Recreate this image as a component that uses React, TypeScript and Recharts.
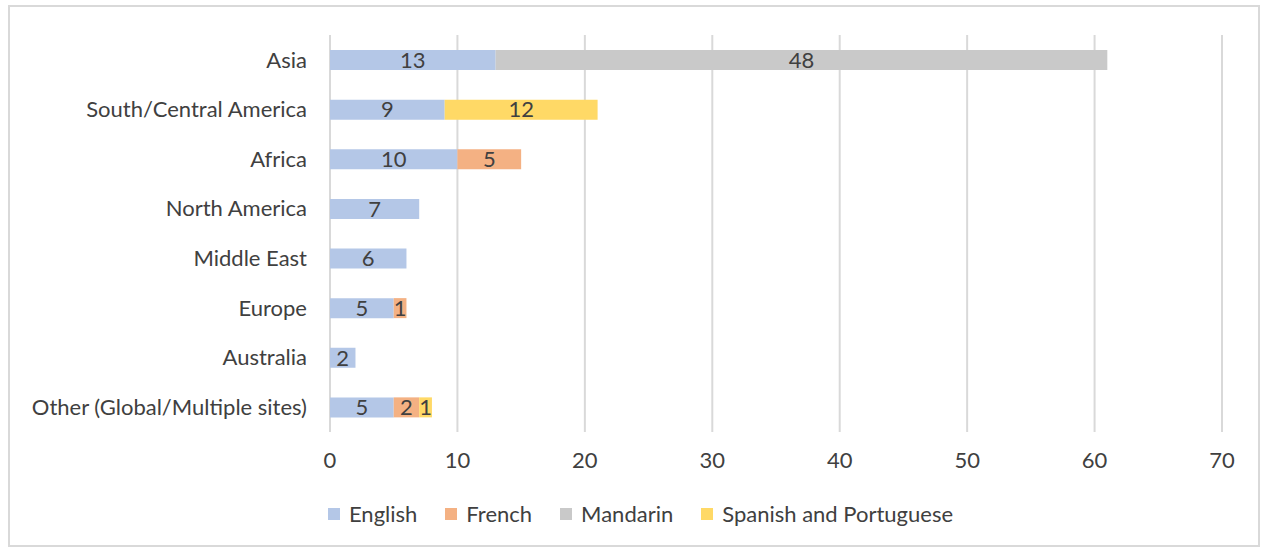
import { BarChart, Bar, XAxis, YAxis, CartesianGrid, LabelList } from 'recharts'

const regions = [
  'Asia',
  'South/Central America',
  'Africa',
  'North America',
  'Middle East',
  'Europe',
  'Australia',
  'Other (Global/Multiple sites)',
]
const english = [13, 9, 10, 7, 6, 5, 2, 5]
const french = [0, 0, 5, 0, 0, 1, 0, 2]
const mandarin = [48, 0, 0, 0, 0, 0, 0, 0]
const spanishPortuguese = [0, 12, 0, 0, 0, 0, 0, 1]
const xTicks = [0, 10, 20, 30, 40, 50, 60, 70]

const series = [
  { key: 'English', values: english, color: '#b4c7e7' },
  { key: 'French', values: french, color: '#f4b183' },
  { key: 'Mandarin', values: mandarin, color: '#c9c9c9' },
  { key: 'Spanish and Portuguese', values: spanishPortuguese, color: '#ffd966' },
]

const data = regions.map((region, i) => {
  const row: Record<string, string | number> = { region }
  series.forEach(s => { row[s.key] = s.values[i] })
  return row
})

const FONT = 'Lato, "Open Sans", sans-serif'
const TEXT = '#404040'
const FS = 22

const LegendBox = () => (
  <div style={{ position: 'absolute', left: 0, top: 500, width: 1281, display: 'flex', justifyContent: 'center', gap: 28, fontFamily: FONT, fontSize: FS, color: TEXT }}>
    {series.map(s => (
      <div key={s.key} style={{ display: 'flex', alignItems: 'center', gap: 9 }}>
        <span style={{ width: 12, height: 12, background: s.color, display: 'inline-block' }} />
        <span>{s.key}</span>
      </div>
    ))}
  </div>
)

export default function App() {
  return (
    <div style={{ position: 'absolute', left: 0, top: 0, width: 1267, height: 550, background: '#fff' }}>
      <div style={{ position: 'absolute', left: 8, top: 5, width: 1248, height: 538, border: '2px solid #d9d9d9' }} />
      <BarChart
        width={1267}
        height={550}
        data={data}
        layout="vertical"
        margin={{ top: 35, right: 45, left: 0, bottom: 88 }}
        barSize={20}
        style={{ position: 'absolute', left: 0, top: 0 }}
      >
        <CartesianGrid horizontal={false} stroke="#d9d9d9" strokeWidth={2} />
        <XAxis
          type="number"
          domain={[0, 70]}
          ticks={xTicks}
          axisLine={false}
          tickLine={false}
          tickMargin={14}
          height={30}
          tick={{ fontFamily: FONT, fontSize: FS, fill: TEXT }}
          interval={0}
        />
        <YAxis
          type="category"
          dataKey="region"
          width={330}
          axisLine={false}
          tickLine={false}
          tickMargin={17}
          tick={{ fontFamily: FONT, fontSize: FS, fill: TEXT }}
          interval={0}
        />
        {series.map(s => (
          <Bar key={s.key} dataKey={s.key} stackId="a" fill={s.color} isAnimationActive={false}>
            <LabelList
              dataKey={s.key}
              position="center"
              formatter={(v: number) => (v ? v : '')}
              style={{ fontFamily: FONT, fontSize: FS, fill: TEXT }}
            />
          </Bar>
        ))}
      </BarChart>
      <LegendBox />
    </div>
  )
}
